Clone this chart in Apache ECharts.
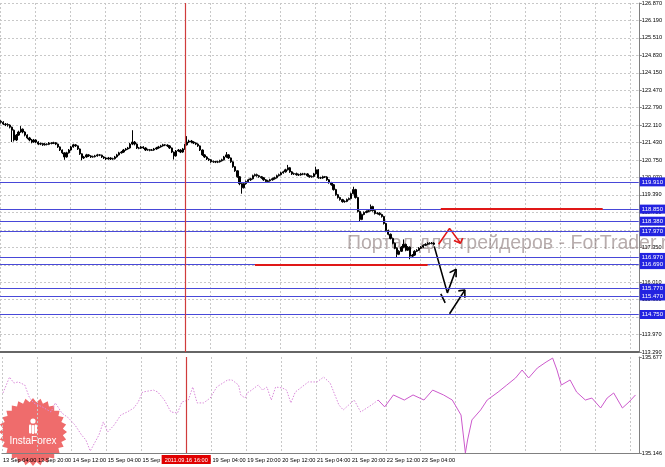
<!DOCTYPE html>
<html>
<head>
<meta charset="utf-8">
<title>H1 chart</title>
<script src="https://cdn.jsdelivr.net/npm/echarts@6/dist/echarts.min.js"></script>
<style>
  html, body { margin: 0; padding: 0; background: #fff; }
  #chart { width: 665px; height: 467px; }
</style>
</head>
<body>
<div id="chart"></div>
<script>
// hourly bars, one slot per hour (weekend skipped), future slots left empty
const slotCount = 292;
// bottom axis labels, one every 16 slots
const tickLabels = ['13 Sep 04:00', '13 Sep 20:00', '14 Sep 12:00', '15 Sep 04:00', '15 Sep 20:00', '16 Sep 12:00',
  '19 Sep 04:00', '19 Sep 20:00', '20 Sep 12:00', '21 Sep 04:00', '21 Sep 20:00', '22 Sep 12:00', '23 Sep 04:00'];
// right axis labels, bottom to top
const priceTicks = ['113.290', '113.970', '114.650', '115.330', '116.010', '116.690', '117.350', '118.030', '118.710',
  '119.390', '120.070', '120.750', '121.430', '122.110', '122.790', '123.470', '124.150', '124.830', '125.510', '126.190', '126.870'];

const opens = [
  122.27,122.23,122.16,122.14,122.12,122.04,121.92,121.54,121.73,121.85,
  121.96,121.85,121.73,121.62,121.54,121.46,121.54,121.46,121.38,121.40,
  121.35,121.38,121.37,121.42,121.41,121.43,121.38,121.27,121.15,121.04,
  120.88,121.04,121.15,121.27,121.35,121.31,121.19,121.00,120.84,120.88,
  120.96,120.92,120.88,120.89,120.92,120.96,120.95,120.88,120.84,120.80,
  120.84,120.80,120.81,120.88,120.96,121.04,121.07,121.15,121.19,121.23,
  121.38,121.46,121.38,121.23,121.22,121.27,121.23,121.15,121.16,121.14,
  121.15,121.19,121.23,121.27,121.31,121.35,121.34,121.31,121.23,121.07,
  120.92,121.11,121.15,121.07,121.19,121.35,121.46,121.50,121.46,121.42,
  121.38,121.31,121.15,120.96,120.88,120.80,120.77,120.69,120.70,120.68,
  120.69,120.73,120.77,120.88,120.96,120.84,120.69,120.50,120.34,120.11,
  119.84,119.68,119.84,119.92,119.99,120.03,120.15,120.19,120.15,120.11,
  120.07,119.99,119.92,119.95,119.99,120.03,120.07,120.15,120.19,120.26,
  120.30,120.38,120.46,120.30,120.22,120.23,120.19,120.18,120.22,120.21,
  120.22,120.15,120.11,120.12,120.22,120.38,120.07,120.06,120.11,120.10,
  119.99,119.88,119.80,119.61,119.41,119.30,119.22,119.14,119.15,119.22,
  119.26,119.45,119.61,119.30,118.76,118.45,118.64,118.72,118.76,118.79,
  118.95,118.79,118.68,118.69,118.64,118.56,118.29,118.02,117.87,117.71,
  117.52,117.33,117.09,117.21,117.37,117.48,117.25,117.37,117.02,117.06,
  117.21,117.25,117.33,117.37,117.44,117.48,117.52,117.51,117.53
];
const closes = [
  122.23,122.16,122.14,122.12,122.04,121.92,121.54,121.73,121.85,121.96,
  121.85,121.73,121.62,121.54,121.46,121.54,121.46,121.38,121.40,121.35,
  121.38,121.37,121.42,121.41,121.43,121.38,121.27,121.15,121.04,120.88,
  121.04,121.15,121.27,121.35,121.31,121.19,121.00,120.84,120.88,120.96,
  120.92,120.88,120.89,120.92,120.96,120.95,120.88,120.84,120.80,120.84,
  120.80,120.81,120.88,120.96,121.04,121.07,121.15,121.19,121.23,121.38,
  121.46,121.38,121.23,121.22,121.27,121.23,121.15,121.16,121.14,121.15,
  121.19,121.23,121.27,121.31,121.35,121.34,121.31,121.23,121.07,120.92,
  121.11,121.15,121.07,121.19,121.35,121.46,121.50,121.46,121.42,121.38,
  121.31,121.15,120.96,120.88,120.80,120.77,120.69,120.70,120.68,120.69,
  120.73,120.77,120.88,120.96,120.84,120.69,120.50,120.34,120.11,119.84,
  119.68,119.84,119.92,119.99,120.03,120.15,120.19,120.15,120.11,120.07,
  119.99,119.92,119.95,119.99,120.03,120.07,120.15,120.19,120.26,120.30,
  120.38,120.46,120.30,120.22,120.23,120.19,120.18,120.22,120.21,120.22,
  120.15,120.11,120.12,120.22,120.38,120.07,120.06,120.11,120.10,119.99,
  119.88,119.80,119.61,119.41,119.30,119.22,119.14,119.15,119.22,119.26,
  119.45,119.61,119.30,118.76,118.45,118.64,118.72,118.76,118.79,118.95,
  118.79,118.68,118.69,118.64,118.56,118.29,118.02,117.87,117.71,117.52,
  117.33,117.09,117.21,117.37,117.48,117.25,117.37,117.02,117.06,117.21,
  117.25,117.33,117.37,117.44,117.48,117.52,117.51,117.53,117.48
];
const lows = [
  122.18,122.12,122.08,122.06,121.99,121.46,121.48,121.50,121.70,121.82,
  121.80,121.68,121.57,121.49,121.41,121.43,121.42,121.34,121.34,121.31,
  121.32,121.33,121.34,121.37,121.38,121.34,121.23,121.11,120.99,120.77,
  120.85,121.01,121.12,121.24,121.27,121.15,120.96,120.75,120.80,120.85,
  120.88,120.84,120.85,120.86,120.89,120.91,120.84,120.80,120.76,120.77,
  120.76,120.77,120.78,120.85,120.93,121.01,121.04,121.12,121.16,121.20,
  121.34,121.33,121.19,121.18,121.19,121.19,121.11,121.12,121.10,121.11,
  121.12,121.16,121.20,121.24,121.28,121.30,121.27,121.19,121.03,120.78,
  120.89,121.08,121.03,121.04,121.16,121.32,121.42,121.41,121.38,121.34,
  121.27,121.11,120.92,120.84,120.76,120.72,120.65,120.65,120.64,120.64,
  120.66,120.70,120.74,120.85,120.80,120.65,120.46,120.30,120.07,119.78,
  119.45,119.65,119.80,119.88,119.95,120.00,120.12,120.11,120.07,120.03,
  119.95,119.88,119.88,119.92,119.96,120.00,120.04,120.12,120.16,120.23,
  120.27,120.35,120.26,120.18,120.18,120.15,120.14,120.15,120.17,120.17,
  120.11,120.07,120.07,120.09,120.19,120.03,120.02,120.03,120.06,119.95,
  119.84,119.76,119.57,119.37,119.26,119.18,119.10,119.10,119.12,119.19,
  119.23,119.42,119.26,118.72,118.37,118.42,118.61,118.69,118.73,118.76,
  118.75,118.64,118.64,118.60,118.52,118.25,117.98,117.83,117.67,117.48,
  117.29,116.98,117.06,117.18,117.34,117.21,117.22,116.90,116.98,117.03,
  117.18,117.22,117.30,117.34,117.41,117.45,117.47,117.48,117.44
];
const highs = [
  122.31,122.27,122.20,122.19,122.15,122.06,121.95,121.77,121.90,122.08,
  121.99,121.88,121.76,121.66,121.58,121.58,121.57,121.49,121.44,121.43,
  121.42,121.41,121.46,121.45,121.47,121.46,121.40,121.29,121.17,121.06,
  121.08,121.19,121.31,121.39,121.38,121.33,121.21,121.02,120.92,121.00,
  120.99,120.95,120.93,120.96,121.00,120.99,120.97,120.91,120.87,120.88,
  120.87,120.85,120.92,121.00,121.08,121.11,121.19,121.23,121.27,121.42,
  121.92,121.50,121.41,121.27,121.31,121.30,121.26,121.20,121.19,121.19,
  121.23,121.27,121.31,121.35,121.39,121.38,121.37,121.34,121.25,121.09,
  121.15,121.19,121.18,121.23,121.39,121.69,121.55,121.54,121.49,121.45,
  121.41,121.33,121.17,120.99,120.91,120.83,120.80,120.74,120.73,120.73,
  120.77,120.81,120.92,121.07,120.99,120.86,120.71,120.52,120.36,120.13,
  119.86,119.88,119.96,120.03,120.07,120.19,120.23,120.23,120.18,120.14,
  120.10,120.02,119.99,120.03,120.07,120.11,120.19,120.23,120.30,120.34,
  120.42,120.57,120.49,120.33,120.27,120.27,120.23,120.26,120.26,120.26,
  120.25,120.18,120.16,120.26,120.50,120.41,120.11,120.15,120.14,120.13,
  120.02,119.91,119.83,119.64,119.44,119.33,119.25,119.19,119.26,119.30,
  119.49,119.72,119.64,119.33,118.79,118.68,118.76,118.80,118.83,119.03,
  118.98,118.82,118.73,118.73,118.67,118.59,118.32,118.05,117.90,117.74,
  117.55,117.36,117.25,117.41,117.67,117.51,117.41,117.40,117.10,117.25,
  117.29,117.37,117.41,117.48,117.52,117.56,117.56,117.57,117.56
];

// lower panel indicator, read at the slots where it turns
const oscSlots = [0,3,5,7,10,12,14,18,22,24,27,30,33,36,38,40,44,46,48,51,54,57,60,62,64,69,71,74,77,80,
  82,85,87,89,92,95,98,103,105,108,109,111,112,114,117,119,121,123,125,128,130,132,134,137,140,144,147,150,
  154,156,161,164,169,172,175,179,184,188,193,197,202,206,210,212,213,215,219,222,227,231,235,238,241,245,
  249,252,254,256,260,263,267,270,274,277,280,284,287,290];
const oscValues = [135.478,135.566,135.533,135.539,135.522,135.456,135.423,135.401,135.373,135.423,135.367,
  135.340,135.301,135.246,135.218,135.157,135.246,135.318,135.262,135.301,135.356,135.373,135.395,135.428,
  135.483,135.494,135.483,135.439,135.373,135.367,135.428,135.439,135.511,135.423,135.423,135.450,135.511,
  135.550,135.550,135.522,135.467,135.450,135.478,135.494,135.522,135.494,135.511,135.439,135.511,135.506,
  135.494,135.423,135.483,135.511,135.539,135.539,135.566,135.533,135.412,135.384,135.439,135.373,135.412,
  135.439,135.401,135.467,135.439,135.467,135.439,135.494,135.467,135.439,135.356,135.146,135.218,135.329,
  135.384,135.439,135.483,135.522,135.561,135.605,135.561,135.616,135.649,135.671,135.605,135.522,135.550,
  135.483,135.439,135.450,135.395,135.450,135.478,135.395,135.428,135.467];
const oscSolidFrom = 172;

// horizontal levels with their right-hand tags
const levels = [119.91, 118.85, 118.38, 117.97, 116.97, 116.69, 115.77, 115.47, 114.75];
const lastPrice = 117.477;
const markedSlot = 84;        // 2011.09.16 16:00
const markedLabel = '2011.09.16 16:00';
// red level segments: [from slot, to slot, price]
const redSegments = [[116, 195, 116.69], [201, 275, 118.85]];
// hand-drawn forecast strokes: [slot, price]
const redStrokes = [
  [[200, 117.48], [205, 118.10], [210, 117.52]],
  [[207, 117.63], [210, 117.52], [211, 117.72]]
];
const blackStrokes = [
  [[198, 117.40], [204, 115.59], [208, 116.51]],
  [[205, 116.38], [208, 116.51], [208, 116.20]],
  [[201, 115.55], [203, 115.20]],
  [[205, 114.78], [212, 115.70]],
  [[209, 115.67], [212, 115.70], [212, 115.40]]
];

const slots = Array.from({ length: slotCount }, (_, i) => i);
const candles = opens.map((o, i) => [o, closes[i], lows[i], highs[i]]);
const oscDotted = [];
const oscSolid = [];
oscSlots.forEach((s, i) => {
  if (s <= oscSolidFrom) oscDotted.push([s, oscValues[i]]);
  if (s >= oscSolidFrom) oscSolid.push([s, oscValues[i]]);
});

const FONT = 'Liberation Sans';
const gridLine = { show: true, lineStyle: { color: '#c8c8c8', type: [2, 2] } };
const every16 = (i) => i % 16 === 0;
const tagLabel = (bg) => ({
  show: true, position: 'end', distance: 1, color: '#fff', backgroundColor: bg,
  padding: [2, 2, 1, 2], fontSize: 6, fontFamily: FONT
});

// empty carrier series that only hold mark lines
const markSeries = (grid, markLine) => ({
  type: 'line', xAxisIndex: grid, yAxisIndex: grid, data: [], silent: true,
  markLine: Object.assign({ silent: true, symbol: ['none', 'none'], animation: false }, markLine)
});

const strokeSeries = (list, color) => list.map((pts) => ({
  type: 'line', xAxisIndex: 0, yAxisIndex: 0, data: pts, symbol: 'none',
  lineStyle: { color: color, width: 1.6 }, silent: true, z: 4
}));

// starburst logo outline
const star = [];
for (let k = 0; k < 56; k++) {
  const r = k % 2 === 0 ? 34 : 30;
  const a = (Math.PI * 2 * k) / 56;
  star.push([33 + r * Math.cos(a), 432 + r * Math.sin(a)]);
}

const chart = echarts.init(document.getElementById('chart'));

const option = {
  animation: false,
  textStyle: { fontFamily: FONT },
  grid: [
    { left: 0, right: 23, top: 0, height: 352 },
    { left: 0, right: 23, top: 357, height: 96 }
  ],
  xAxis: [
    {
      type: 'category', gridIndex: 0, data: slots,
      axisLine: { lineStyle: { color: '#666', width: 2 } },
      axisTick: { show: false }, axisLabel: { show: false },
      splitLine: Object.assign({ interval: every16 }, gridLine)
    },
    {
      type: 'category', gridIndex: 1, data: slots,
      axisLine: { lineStyle: { color: '#808080' } },
      axisTick: { interval: every16, length: 3, lineStyle: { color: '#808080' } },
      axisLabel: {
        interval: (i) => every16(i) && i / 16 < tickLabels.length,
        formatter: (v, i) => tickLabels[i / 16] || '',
        align: 'left', fontSize: 5.6, color: '#000', margin: 4
      },
      splitLine: Object.assign({ interval: every16 }, gridLine)
    }
  ],
  yAxis: [
    {
      type: 'value', gridIndex: 0, position: 'right', min: 113.29, max: 126.87, interval: 0.679,
      axisLine: { show: true, lineStyle: { color: '#808080' } },
      axisTick: { show: true, length: 3, lineStyle: { color: '#808080' } },
      axisLabel: {
        fontSize: 5.6, color: '#000', margin: 3,
        formatter: (v) => priceTicks[Math.round((v - 113.29) / 0.679)] || ''
      },
      splitLine: gridLine
    },
    {
      type: 'value', gridIndex: 1, position: 'right', min: 135.146, max: 135.677, interval: 0.531,
      axisLine: { show: true, lineStyle: { color: '#808080' } },
      axisTick: { show: true, length: 3, lineStyle: { color: '#808080' } },
      axisLabel: { fontSize: 5.6, color: '#000', margin: 3, formatter: (v) => v.toFixed(3) },
      splitLine: { show: false }
    }
  ],
  graphic: [
    {
      type: 'text', left: 347, top: 234, z: 1, silent: true,
      style: { text: 'Портал для трейдеров - ForTrader.ru', fill: 'rgba(125,105,105,0.55)', font: '19.5px "Liberation Sans"' }
    },
    {
      type: 'group', z: 100, silent: true,
      children: [
        { type: 'polygon', shape: { points: star }, style: { fill: 'rgba(238,96,96,0.92)' } },
        { type: 'circle', shape: { cx: 33, cy: 421, r: 2.6 }, style: { fill: '#fff' } },
        { type: 'rect', shape: { x: 29, y: 424.5, width: 2.4, height: 9, r: 1 }, style: { fill: '#fff' } },
        { type: 'rect', shape: { x: 31.8, y: 425, width: 2.4, height: 9, r: 1 }, style: { fill: '#fff' } },
        { type: 'rect', shape: { x: 34.6, y: 424.5, width: 2.4, height: 9, r: 1 }, style: { fill: '#fff' } },
        {
          type: 'text', x: 33, y: 441,
          style: { text: 'InstaForex', fill: '#fff', font: '10px "Liberation Sans"', align: 'center', verticalAlign: 'middle' }
        }
      ]
    }
  ],
  series: [
    {
      type: 'candlestick', xAxisIndex: 0, yAxisIndex: 0, data: candles, barWidth: 1.8,
      itemStyle: { color: '#000', color0: '#000', borderColor: '#000', borderColor0: '#000', borderWidth: 1 }
    },
    // blue levels with tags
    markSeries(0, {
      lineStyle: { color: '#4848d8', width: 1, type: 'solid' },
      label: Object.assign(tagLabel('#2323e0'), { formatter: (p) => p.value.toFixed(3) }),
      data: levels.map((v) => ({ yAxis: v }))
    }),
    // last price tag
    markSeries(0, {
      lineStyle: { opacity: 0 },
      label: Object.assign(tagLabel('#000'), { formatter: lastPrice.toFixed(3) }),
      data: [{ yAxis: lastPrice }]
    }),
    // red level segments
    markSeries(0, {
      lineStyle: { color: '#e01818', width: 2, type: 'solid' },
      label: { show: false },
      data: redSegments.map(([a, b, p]) => [{ coord: [a, p] }, { coord: [b, p] }])
    }),
    // vertical marker in the price panel
    markSeries(0, {
      lineStyle: { color: '#d03c3c', width: 1.2, type: 'solid' },
      label: { show: false },
      data: [{ xAxis: markedSlot }]
    }),
    ...strokeSeries(redStrokes, '#e01818'),
    ...strokeSeries(blackStrokes, '#000'),
    {
      type: 'line', xAxisIndex: 1, yAxisIndex: 1, data: oscDotted, symbol: 'none',
      lineStyle: { color: '#d98ad9', width: 1, type: [1.5, 1.5] }
    },
    {
      type: 'line', xAxisIndex: 1, yAxisIndex: 1, data: oscSolid, symbol: 'none',
      lineStyle: { color: '#cc5acc', width: 1 }
    },
    // vertical marker in the lower panel with the date tag
    Object.assign(markSeries(1, {
      z: 10,
      lineStyle: { color: '#d03c3c', width: 1.2, type: 'solid' },
      label: {
        show: true, position: 'start', distance: 2, formatter: markedLabel,
        color: '#fff', backgroundColor: '#e00000', padding: [2, 3, 1, 3], fontSize: 5.6, fontFamily: FONT
      },
      data: [{ xAxis: markedSlot }]
    }), { z: 10 })
  ]
};

chart.setOption(option);
</script>
</body>
</html>
